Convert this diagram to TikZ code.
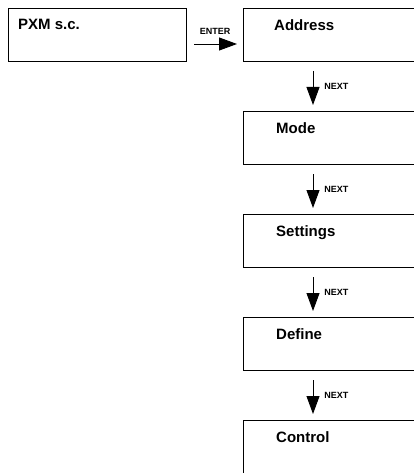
\documentclass[tikz,border=0pt]{standalone}
\usepackage{fontspec}
\setmainfont{Liberation Sans}
\usetikzlibrary{arrows.meta,positioning}

\tikzset{
  menubox/.style={draw, line width=1pt, minimum height=53pt, anchor=north west, inner sep=0pt},
  title/.style={anchor=north west, inner sep=0pt, font=\fontsize{15}{18}\selectfont\bfseries},
  keyname/.style={inner sep=0pt, font=\fontsize{9}{11}\selectfont\bfseries},
  keyarrow/.style={line width=0.9pt, -{Triangle[length=18pt,width=13pt]}},
}

\begin{document}
\begin{tikzpicture}[x=1pt,y=1pt]
    \useasboundingbox (0,0) rectangle (414,-473);
    \clip (0,0) rectangle (414,-473);

    % Start screen
    \node[menubox, minimum width=178pt, label={[title, xshift=10pt, yshift=-11pt]north west:PXM s.c.}] (pxm) at (8,-8) {};

    % Menu entries
    \node[menubox, minimum width=200pt, label={[title, xshift=31pt, yshift=-11pt]north west:Address}] (addr) at (243,-8) {};
    \node[menubox, minimum width=200pt, label={[title, xshift=33pt, yshift=-11pt]north west:Mode}] (mode) at (243,-111) {};
    \node[menubox, minimum width=200pt, label={[title, xshift=33pt, yshift=-11pt]north west:Settings}] (sett) at (243,-214) {};
    \node[menubox, minimum width=200pt, label={[title, xshift=33pt, yshift=-11pt]north west:Define}] (def) at (243,-317) {};
    \node[menubox, minimum width=200pt, label={[title, xshift=33pt, yshift=-11pt]north west:Control}] (ctrl) at (243,-420) {};

    % ENTER key
    \draw[keyarrow, shorten <=7pt, shorten >=6pt] ([yshift=-9pt]pxm.east) -- ([yshift=-9pt]addr.west) node[midway, above=9.5pt, keyname] (enter) {ENTER};

    % NEXT key
    \foreach \a/\b in {addr/mode, mode/sett, sett/def, def/ctrl}
        \draw[keyarrow, shorten <=9pt, shorten >=6pt] ([xshift=70pt]\a.south west) -- ([xshift=70pt]\b.north west) node[midway, right=11pt, keyname] (next-\a) {NEXT};
\end{tikzpicture}
\end{document}
